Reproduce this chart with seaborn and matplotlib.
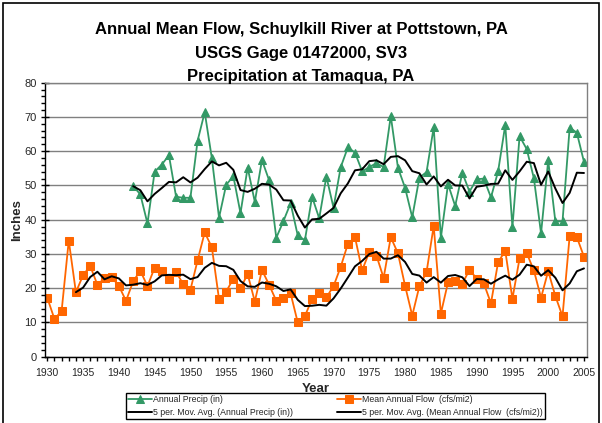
import numpy as np
import pandas as pd
import matplotlib
matplotlib.use("Agg")
import matplotlib.pyplot as plt
from matplotlib.ticker import MultipleLocator, FixedLocator
from matplotlib.patches import Rectangle
import seaborn as sns

years = list(range(1930, 2006))

# Mean annual flow, cfs per square mile
flow = [17.2, 11.0, 13.3, 33.9, 18.8, 23.8, 26.5, 21.0, 22.9, 23.2,
        20.7, 16.3, 22.0, 25.1, 20.6, 26.0, 25.0, 22.8, 24.7, 21.2,
        19.5, 28.1, 36.3, 31.9, 16.8, 19.0, 22.8, 20.0, 24.1, 16.1,
        25.3, 21.0, 16.3, 17.2, 18.5, 10.0, 11.9, 16.8, 18.5, 17.3,
        20.6, 26.2, 32.9, 34.9, 25.2, 30.6, 29.5, 23.0, 34.9, 30.2,
        20.7, 12.0, 20.6, 24.7, 38.2, 12.6, 21.7, 22.1, 21.3, 25.4,
        22.8, 21.4, 15.6, 27.6, 30.9, 16.9, 28.7, 30.2, 25.2, 17.2,
        25.0, 17.7, 11.8, 35.3, 34.9, 29.2]

# Annual precipitation at Tamaqua, inches (record begins 1942)
precip = [None] * 12 + [
    49.8, 47.4, 38.9, 54.0, 56.1, 58.8, 46.7, 46.4,
    46.4, 63.0, 71.4, 57.9, 40.6, 50.2, 52.7, 41.9, 55.2, 45.2,
    57.4, 51.5, 34.7, 39.6, 44.8, 35.4, 34.0, 46.7, 40.4, 52.6,
    43.5, 55.3, 61.1, 59.6, 54.1, 55.4, 56.5, 55.4, 70.3, 55.2,
    49.3, 40.7, 52.3, 53.9, 67.0, 34.7, 50.4, 44.0, 53.7, 48.2,
    51.8, 52.0, 46.5, 54.1, 67.7, 37.8, 64.4, 60.6, 52.1, 36.0,
    57.3, 39.5, 39.5, 66.9, 65.4, 56.9]

xtick_years = list(range(1930, 2006, 5))

lbl_precip = "Annual Precip (in)"
lbl_flow = "Mean Annual Flow  (cfs/mi2)"
lbl_ma_precip = "5 per. Mov. Avg. (Annual Precip (in))"
lbl_ma_flow = "5 per. Mov. Avg. (Mean Annual Flow  (cfs/mi2))"

df = pd.DataFrame({"year": years,
                   "precip": pd.array(precip, dtype="float"),
                   "flow": flow})


def moving_avg(s, n=5):
    # trailing n-period average over the non-blank values in each window
    m = s.rolling(n, min_periods=1).mean()
    m.iloc[:n - 1] = np.nan
    return m


df["ma_precip"] = moving_avg(df["precip"].astype(float))
df["ma_flow"] = moving_avg(df["flow"].astype(float))

sns.set_theme(style="white")
plt.rcParams["font.family"] = ["Liberation Sans", "DejaVu Sans"]

W, H = 602, 423
fig = plt.figure(figsize=(W / 100, H / 100), dpi=100)
ax = fig.add_axes([45 / W, 1 - 356.7 / H, (586.7 - 45) / W, (356.7 - 82.7) / H])

green = "#339966"
orange = "#FF6600"

sns.lineplot(data=df, x="year", y="precip", ax=ax, color=green, lw=1.3,
             marker="^", markersize=6, markeredgecolor=green,
             label=lbl_precip)
sns.lineplot(data=df, x="year", y="ma_precip", ax=ax, color="black", lw=1.4,
             label=lbl_ma_precip)
sns.lineplot(data=df, x="year", y="flow", ax=ax, color=orange, lw=1.3,
             marker="s", markersize=5.2, markeredgecolor=orange,
             label=lbl_flow)
sns.lineplot(data=df, x="year", y="ma_flow", ax=ax, color="black", lw=1.4,
             label=lbl_ma_flow)

ax.set_xlim(1929.68, 2005.38)
ax.set_ylim(0, 80)

ax.yaxis.set_major_locator(MultipleLocator(10))
ax.yaxis.set_minor_locator(MultipleLocator(2))
ax.xaxis.set_major_locator(FixedLocator(xtick_years))
ax.xaxis.set_minor_locator(MultipleLocator(1))
ax.set_xticklabels([str(y) for y in xtick_years])

ax.grid(axis="y", which="major", color="#808080", lw=1.0)
ax.set_axisbelow(True)

for side in ("left", "bottom"):
    ax.spines[side].set_color("black")
    ax.spines[side].set_linewidth(1.0)
for side in ("top", "right"):
    ax.spines[side].set_color("#808080")
    ax.spines[side].set_linewidth(1.0)

ax.tick_params(axis="y", which="major", direction="inout", length=6,
               width=1, color="black", labelsize=8, pad=3, left=True)
ax.tick_params(axis="y", which="minor", direction="out", length=3,
               width=1, color="black", left=True)
ax.tick_params(axis="x", which="both", direction="out", length=3,
               width=1, color="black", bottom=True)
ax.tick_params(axis="x", which="major", labelsize=7.5, pad=5)

ax.set_xlabel("Year", fontsize=9.5, fontweight="bold", labelpad=4)
ax.set_ylabel("Inches", fontsize=9.5, fontweight="bold", labelpad=1)

title_lines = ["Annual Mean Flow, Schuylkill River at Pottstown, PA",
               "USGS Gage 01472000, SV3",
               "Precipitation at Tamaqua, PA"]
for i, yc in enumerate([29.5, 53.5, 77.0]):
    fig.text(0.5, 1 - yc / H, title_lines[i], ha="center", va="center",
             fontsize=12, fontweight="bold", color="black")

handles, labels = ax.get_legend_handles_labels()
ax.get_legend().remove()
leg = fig.legend(handles, labels, ncol=2, loc="upper left",
                 bbox_to_anchor=(126 / W, 0.0, (545 - 126) / W, 1 - 393 / H),
                 mode="expand", fontsize=6.3, frameon=True, fancybox=False,
                 edgecolor="black", framealpha=1, handlelength=2.75,
                 handletextpad=0.1, borderpad=0.25, labelspacing=0.45,
                 borderaxespad=0)
leg.get_frame().set_linewidth(1.0)

fig.patches.append(Rectangle((3 / W, -0.01), (599 - 3) / W, 1 - 3 / H + 0.01,
                             transform=fig.transFigure, fill=False,
                             edgecolor="black", lw=1.2))

fig.savefig("out.png", dpi=100)
